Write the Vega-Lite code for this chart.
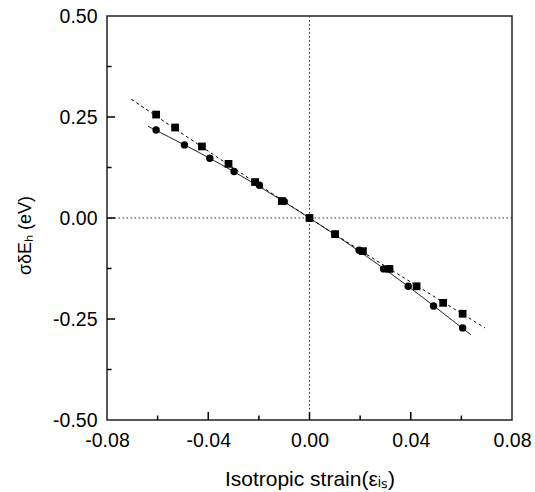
{
  "$schema": "https://vega.github.io/schema/vega-lite/v6.json",
  "width": 405,
  "height": 404,
  "autosize": {"type": "none"},
  "padding": {"left": 107, "top": 16, "right": 23, "bottom": 72},
  "background": "white",
  "config": {
    "view": {"stroke": "#222", "strokeWidth": 1.5},
    "font": "Liberation Sans"
  },
  "datasets": {
    "pts": [
      {"strain": -0.0606, "energy": 0.256, "series": "square"},
      {"strain": -0.0531, "energy": 0.224, "series": "square"},
      {"strain": -0.0425, "energy": 0.177, "series": "square"},
      {"strain": -0.0320, "energy": 0.134, "series": "square"},
      {"strain": -0.0215, "energy": 0.089, "series": "square"},
      {"strain": -0.0109, "energy": 0.042, "series": "square"},
      {"strain": 0.0, "energy": 0.0, "series": "square"},
      {"strain": 0.0101, "energy": -0.040, "series": "square"},
      {"strain": 0.0211, "energy": -0.082, "series": "square"},
      {"strain": 0.0316, "energy": -0.126, "series": "square"},
      {"strain": 0.0423, "energy": -0.169, "series": "square"},
      {"strain": 0.0528, "energy": -0.210, "series": "square"},
      {"strain": 0.0605, "energy": -0.237, "series": "square"},
      {"strain": -0.0606, "energy": 0.218, "series": "circle"},
      {"strain": -0.0494, "energy": 0.181, "series": "circle"},
      {"strain": -0.0394, "energy": 0.148, "series": "circle"},
      {"strain": -0.0298, "energy": 0.115, "series": "circle"},
      {"strain": -0.0198, "energy": 0.081, "series": "circle"},
      {"strain": -0.0100, "energy": 0.041, "series": "circle"},
      {"strain": 0.0, "energy": 0.0, "series": "circle"},
      {"strain": 0.0100, "energy": -0.040, "series": "circle"},
      {"strain": 0.0196, "energy": -0.080, "series": "circle"},
      {"strain": 0.0293, "energy": -0.126, "series": "circle"},
      {"strain": 0.0390, "energy": -0.169, "series": "circle"},
      {"strain": 0.0490, "energy": -0.218, "series": "circle"},
      {"strain": 0.0605, "energy": -0.272, "series": "circle"}
    ],
    "fits": [
      {"strain": -0.0704, "energy": 0.294, "fit": "dashed"},
      {"strain": 0.0, "energy": 0.0, "fit": "dashed"},
      {"strain": 0.0693, "energy": -0.272, "fit": "dashed"},
      {"strain": -0.0638, "energy": 0.227, "fit": "solid"},
      {"strain": -0.0300, "energy": 0.115, "fit": "solid"},
      {"strain": 0.0, "energy": 0.0, "fit": "solid"},
      {"strain": 0.0300, "energy": -0.128, "fit": "solid"},
      {"strain": 0.0637, "energy": -0.289, "fit": "solid"}
    ],
    "zero": [{"v": 0}],
    "xmaj": [{"v": -0.04}, {"v": 0}, {"v": 0.04}],
    "xmin": [{"v": -0.06}, {"v": -0.02}, {"v": 0.02}, {"v": 0.06}],
    "ymaj": [{"v": -0.25}, {"v": 0}, {"v": 0.25}],
    "ymin": [{"v": -0.375}, {"v": -0.125}, {"v": 0.125}, {"v": 0.375}]
  },
  "resolve": {"axis": {"x": "independent", "y": "independent"}},
  "layer": [
    {
      "data": {"name": "zero"},
      "mark": {"type": "rule", "color": "#333", "strokeWidth": 1, "strokeDash": [1.5, 2.5]},
      "encoding": {
        "x": {"field": "v", "type": "quantitative",
          "scale": {"domain": [-0.08, 0.08], "nice": false, "zero": false},
          "title": "Isotropic strain(εᵢₛ)",
          "axis": {
            "orient": "bottom",
            "values": [-0.08, -0.04, 0, 0.04, 0.08],
            "labelExpr": "replace(format(datum.value, '.2f'), '−', '-')",
            "ticks": false,
            "domain": false, "grid": false,
            "labelFlush": false, "labelOverlap": false,
            "labelFont": "Liberation Sans", "labelFontSize": 19.5, "labelColor": "black",
            "labelPadding": 11,
            "titleFont": "Liberation Sans", "titleFontSize": 21, "titleFontWeight": "normal", "titleColor": "black",
            "titlePadding": 19
          }
        }
      }
    },
    {
      "data": {"name": "zero"},
      "mark": {"type": "rule", "color": "#333", "strokeWidth": 1, "strokeDash": [1.5, 2.5]},
      "encoding": {
        "y": {"field": "v", "type": "quantitative",
          "scale": {"domain": [-0.5, 0.5], "nice": false, "zero": false},
          "title": "σδEₕ  (eV)",
          "axis": {
            "orient": "left",
            "values": [-0.5, -0.25, 0, 0.25, 0.5],
            "labelExpr": "replace(format(datum.value, '.2f'), '−', '-')",
            "ticks": false,
            "domain": false, "grid": false,
            "labelFlush": false, "labelOverlap": false,
            "labelFont": "Liberation Sans", "labelFontSize": 19.5, "labelColor": "black",
            "labelPadding": 10,
            "titleFont": "Liberation Sans", "titleFontSize": 18, "titleFontWeight": "normal", "titleColor": "black",
            "titlePadding": 18,
            "titleY": 219
          }
        }
      }
    },
    {
      "data": {"name": "xmaj"},
      "mark": {"type": "rule", "color": "#000", "strokeWidth": 1.5},
      "encoding": {
        "x": {"field": "v", "type": "quantitative", "axis": null},
        "y": {"datum": -0.5, "type": "quantitative", "axis": null},
        "y2": {"datum": -0.48}
      }
    },
    {
      "data": {"name": "xmin"},
      "mark": {"type": "rule", "color": "#000", "strokeWidth": 1.5},
      "encoding": {
        "x": {"field": "v", "type": "quantitative", "axis": null},
        "y": {"datum": -0.5, "type": "quantitative", "axis": null},
        "y2": {"datum": -0.489}
      }
    },
    {
      "data": {"name": "ymaj"},
      "mark": {"type": "rule", "color": "#000", "strokeWidth": 1.5},
      "encoding": {
        "y": {"field": "v", "type": "quantitative", "axis": null},
        "x": {"datum": -0.08, "type": "quantitative", "axis": null},
        "x2": {"datum": -0.0768}
      }
    },
    {
      "data": {"name": "ymin"},
      "mark": {"type": "rule", "color": "#000", "strokeWidth": 1.5},
      "encoding": {
        "y": {"field": "v", "type": "quantitative", "axis": null},
        "x": {"datum": -0.08, "type": "quantitative", "axis": null},
        "x2": {"datum": -0.0782}
      }
    },
    {
      "data": {"name": "fits"},
      "mark": {"type": "line", "color": "black", "strokeWidth": 1, "interpolate": "monotone"},
      "encoding": {
        "x": {"field": "strain", "type": "quantitative", "axis": null},
        "y": {"field": "energy", "type": "quantitative", "axis": null},
        "detail": {"field": "fit"},
        "strokeDash": {"field": "fit", "type": "nominal",
          "scale": {"domain": ["solid", "dashed"], "range": [[1, 0], [3, 3]]}, "legend": null}
      }
    },
    {
      "data": {"name": "pts"},
      "mark": {"type": "point", "filled": true, "opacity": 1, "color": "black"},
      "encoding": {
        "x": {"field": "strain", "type": "quantitative", "axis": null},
        "y": {"field": "energy", "type": "quantitative", "axis": null},
        "shape": {"field": "series", "type": "nominal",
          "scale": {"domain": ["square", "circle"], "range": ["square", "circle"]}, "legend": null},
        "size": {"field": "series", "type": "nominal",
          "scale": {"domain": ["square", "circle"], "range": [60, 55]}, "legend": null}
      }
    }
  ]
}
